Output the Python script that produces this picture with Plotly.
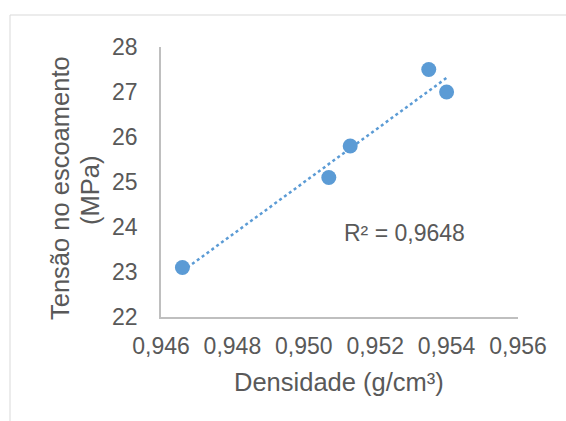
import numpy as np
import plotly.graph_objects as go

densidade = [0.9466, 0.9507, 0.9513, 0.9535, 0.9540]
tensao = [23.1, 25.1, 25.8, 27.5, 27.0]
x_ticks = [0.946, 0.948, 0.950, 0.952, 0.954, 0.956]
y_ticks = [22, 23, 24, 25, 26, 27, 28]
r2_label = "R² = 0,9648"
x_title = "Densidade (g/cm³)"
y_title_lines = ["Tensão no escoamento", "(MPa)"]

blue = "#5B9BD5"
grey_text = "#595959"
font_family = "Liberation Sans, Arial, sans-serif"

coef = np.polyfit(densidade, tensao, 1)
x_fit = np.array([min(densidade), max(densidade)])
y_fit = np.polyval(coef, x_fit)

fig = go.Figure()
fig.add_trace(go.Scatter(x=x_fit, y=y_fit, mode="lines",
                         line=dict(color=blue, width=2.5, dash="dot"),
                         hoverinfo="skip", showlegend=False))
fig.add_trace(go.Scatter(x=densidade, y=tensao, mode="markers",
                         marker=dict(color=blue, size=15),
                         showlegend=False))

fig.add_annotation(x=0.95283, y=23.87, text=r2_label, showarrow=False,
                   font=dict(size=23, color=grey_text, family=font_family))

L, R, T, B = 161, 48, 47, 104
W, H = 566, 421
pw, ph = W - L - R, H - T - B


def px_x(p):
    return (p - L) / pw


def px_y(p):
    return (H - B - p) / ph


# axis titles
fig.add_annotation(xref="paper", yref="paper", x=px_x(339), y=px_y(382),
                   text=x_title, showarrow=False, xanchor="center", yanchor="middle",
                   font=dict(size=25.5, color=grey_text, family=font_family))
fig.add_annotation(xref="paper", yref="paper", x=px_x(60), y=px_y(188),
                   text=y_title_lines[0], showarrow=False, textangle=-90,
                   xanchor="center", yanchor="middle",
                   font=dict(size=25.5, color=grey_text, family=font_family))
fig.add_annotation(xref="paper", yref="paper", x=px_x(90), y=px_y(191),
                   text=y_title_lines[1], showarrow=False, textangle=-90,
                   xanchor="center", yanchor="middle",
                   font=dict(size=25.5, color=grey_text, family=font_family))

fig.add_shape(type="rect", xref="paper", yref="paper",
              x0=px_x(10), x1=px_x(W + 5),
              y0=px_y(H + 5), y1=px_y(15),
              line=dict(color="#D9D9D9", width=1), fillcolor="rgba(0,0,0,0)",
              layer="below")

fig.update_layout(
    width=W, height=H,
    margin=dict(l=L, r=R, t=T, b=B),
    paper_bgcolor="white", plot_bgcolor="white",
    separators=", ",
    font=dict(family=font_family, color=grey_text, size=23),
    xaxis=dict(range=[0.946, 0.956], tickvals=x_ticks, tickformat=".3f",
               showgrid=False, zeroline=False, showline=True,
               linecolor="#BFBFBF", linewidth=1.5, ticks="",
               ticklabelstandoff=8),
    yaxis=dict(range=[22, 28], tickvals=y_ticks,
               showgrid=False, zeroline=False, showline=True,
               linecolor="#BFBFBF", linewidth=1.5, ticks="",
               ticklabelstandoff=17),
)

fig.write_html("out.html")
